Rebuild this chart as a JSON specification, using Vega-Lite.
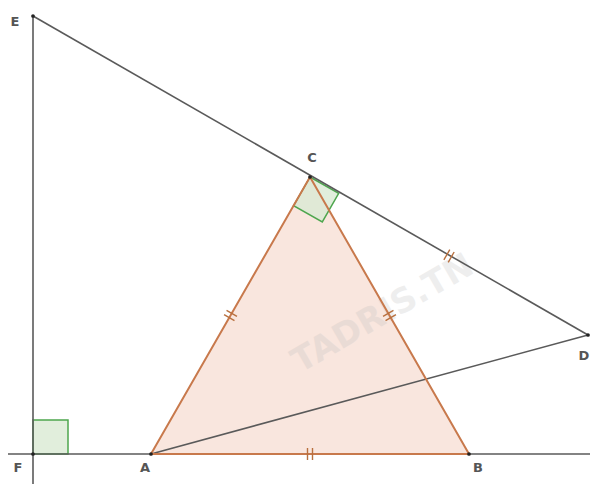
{
  "$schema": "https://vega.github.io/schema/vega-lite/v6.json",
  "width": 590,
  "height": 484,
  "autosize": {"type": "none"},
  "padding": 0,
  "background": "white",
  "config": {"view": {"stroke": null}},
  "datasets": {
    "tri": [
      {"o": 1, "x": 118, "y": 0},
      {"o": 2, "x": 436, "y": 0},
      {"o": 3, "x": 277, "y": 277},
      {"o": 4, "x": 118, "y": 0}
    ],
    "sq": [
      {"id": "F", "o": 1, "x": 0, "y": 0},
      {"id": "F", "o": 2, "x": 35, "y": 0},
      {"id": "F", "o": 3, "x": 35, "y": 34},
      {"id": "F", "o": 4, "x": 0, "y": 34},
      {"id": "F", "o": 5, "x": 0, "y": 0},
      {"id": "C", "o": 1, "x": 277, "y": 277},
      {"id": "C", "o": 2, "x": 260.6, "y": 248.4},
      {"id": "C", "o": 3, "x": 289.3, "y": 232.1},
      {"id": "C", "o": 4, "x": 305.7, "y": 260.7},
      {"id": "C", "o": 5, "x": 277, "y": 277}
    ],
    "lines": [
      {"seg": "h", "o": 1, "x": -25, "y": 0},
      {"seg": "h", "o": 2, "x": 557, "y": 0},
      {"seg": "v", "o": 1, "x": 0, "y": -30},
      {"seg": "v", "o": 2, "x": 0, "y": 438},
      {"seg": "ED", "o": 1, "x": 0, "y": 438},
      {"seg": "ED", "o": 2, "x": 555, "y": 119},
      {"seg": "AD", "o": 1, "x": 118, "y": 0},
      {"seg": "AD", "o": 2, "x": 555, "y": 119}
    ],
    "ticks": [
      {"x": 274.5, "y": -6, "x2": 274.5, "y2": 6},
      {"x": 279.5, "y": -6, "x2": 279.5, "y2": 6},
      {"x": 191.06, "y": 139.32, "x2": 201.46, "y2": 133.34},
      {"x": 193.55, "y": 143.66, "x2": 203.95, "y2": 137.68},
      {"x": 352.55, "y": 133.34, "x2": 362.95, "y2": 139.32},
      {"x": 350.06, "y": 137.68, "x2": 360.46, "y2": 143.66},
      {"x": 410.87, "y": 194.03, "x2": 416.79, "y2": 204.45},
      {"x": 415.21, "y": 191.56, "x2": 421.13, "y2": 201.98}
    ],
    "pts": [
      {"name": "E", "x": 0, "y": 438, "lx": -18, "ly": 432},
      {"name": "F", "x": 0, "y": 0, "lx": -15, "ly": -14},
      {"name": "A", "x": 118, "y": 0, "lx": 112, "ly": -14},
      {"name": "B", "x": 436, "y": 0, "lx": 445, "ly": -14},
      {"name": "C", "x": 277, "y": 277, "lx": 279, "ly": 296},
      {"name": "D", "x": 555, "y": 119, "lx": 551, "ly": 98}
    ],
    "wm": [
      {"t": "TADRIS.TN", "x": 350, "y": 140}
    ]
  },
  "encoding": {
    "x": {"type": "quantitative", "scale": {"domain": [-33, 557], "nice": false, "zero": false}, "axis": null},
    "y": {"type": "quantitative", "scale": {"domain": [-30, 454], "nice": false, "zero": false}, "axis": null}
  },
  "layer": [
    {
      "data": {"name": "tri"},
      "mark": {"type": "line", "fill": "#f9e6de", "stroke": null, "strokeWidth": 0},
      "encoding": {"x": {"field": "x"}, "y": {"field": "y"}, "order": {"field": "o"}}
    },
    {
      "data": {"name": "wm"},
      "mark": {"type": "text", "angle": 330, "font": "DejaVu Sans", "fontWeight": "bold", "fontSize": 34, "fill": "#bdbdbd", "opacity": 0.25},
      "encoding": {"x": {"field": "x"}, "y": {"field": "y"}, "text": {"field": "t"}}
    },
    {
      "data": {"name": "sq"},
      "mark": {"type": "line", "fill": "#d9ead3", "fillOpacity": 0.8, "stroke": "#4ea64e", "strokeWidth": 1.5},
      "encoding": {"x": {"field": "x"}, "y": {"field": "y"}, "detail": {"field": "id"}, "order": {"field": "o"}}
    },
    {
      "data": {"name": "lines"},
      "mark": {"type": "line", "stroke": "#5a5a5a", "strokeWidth": 1.6},
      "encoding": {"x": {"field": "x"}, "y": {"field": "y"}, "detail": {"field": "seg"}, "order": {"field": "o"}}
    },
    {
      "data": {"name": "tri"},
      "mark": {"type": "line", "stroke": "#c8794c", "strokeWidth": 2},
      "encoding": {"x": {"field": "x"}, "y": {"field": "y"}, "order": {"field": "o"}}
    },
    {
      "data": {"name": "ticks"},
      "mark": {"type": "rule", "stroke": "#b8703f", "strokeWidth": 1.4},
      "encoding": {"x": {"field": "x"}, "y": {"field": "y"}, "x2": {"field": "x2"}, "y2": {"field": "y2"}}
    },
    {
      "data": {"name": "pts"},
      "mark": {"type": "point", "filled": true, "color": "#222222", "size": 14, "opacity": 1},
      "encoding": {"x": {"field": "x"}, "y": {"field": "y"}}
    },
    {
      "data": {"name": "pts"},
      "mark": {"type": "text", "font": "DejaVu Sans", "fontSize": 13, "fontWeight": "bold", "fill": "#555555"},
      "encoding": {"x": {"field": "lx"}, "y": {"field": "ly"}, "text": {"field": "name"}}
    }
  ]
}
